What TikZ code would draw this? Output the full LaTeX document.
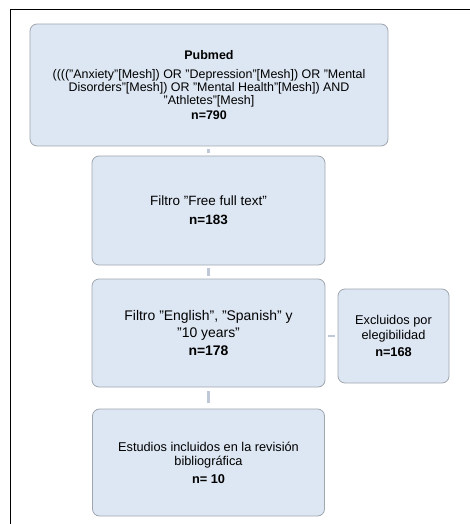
\documentclass[tikz,border=0pt]{standalone}
\usepackage{fontspec}
\setmainfont{Liberation Sans}
\usepackage{tikz}
\usetikzlibrary{calc}
\definecolor{boxfill}{RGB}{221,231,243}
\definecolor{boxline}{RGB}{160,166,174}
\definecolor{linkline}{RGB}{190,200,214}
\tikzset{
	flowbox/.style={draw=boxline, fill=boxfill, line width=0.8bp, rounded corners=7bp, align=center, inner sep=2bp, font=\fontsize{12.8}{14}\selectfont},
	linkseg/.style={draw=linkline, line width=2.2bp, shorten <=2.5bp, shorten >=2.5bp}
}

\begin{document}
\begin{tikzpicture}[x=1bp, y=-1bp]
			%%%%% START %%%%%
			
			\useasboundingbox (0, 0) rectangle (470, 524);
			\draw[line width=1bp] (10, 524) -- (10, 10) -- (470, 10);
			
			\node[flowbox, minimum width=358bp, minimum height=122bp, font=\fontsize{12.5}{13}\selectfont] (pubmed) at (209, 85) {\textbf{Pubmed}\\[6bp](((("Anxiety"[Mesh]) OR "Depression"[Mesh]) OR "Mental\\Disorders"[Mesh]) OR "Mental Health"[Mesh]) AND\\"Athletes"[Mesh]\\[2bp]\textbf{n=790}};
			
			\node[flowbox, minimum width=233bp, minimum height=109bp, font=\fontsize{13.5}{14}\selectfont] (fulltext) at (208.5, 210.5) {Filtro "Free full text"\\[5bp]\textbf{n=183}};
			
			\node[flowbox, minimum width=233bp, minimum height=108bp, font=\fontsize{14}{15}\selectfont] (idioma) at (208.5, 333) {Filtro "English", "Spanish" y\\[3bp]"10 years"\\[3bp]\textbf{n=178}};
			
			\node[flowbox, minimum width=111bp, minimum height=94bp] (excluidos) at (393.5, 336) {Excluidos por\\[1bp]elegibilidad\\[3bp]\textbf{n=168}};
			
			\node[flowbox, minimum width=232bp, minimum height=107bp] (incluidos) at (208.5, 462.5) {Estudios incluidos en la revisión\\bibliográfica\\[4bp]\textbf{n= 10}};
			
			\draw[linkseg] (pubmed.south -| fulltext.north) -- (fulltext.north);
			\draw[linkseg] (fulltext.south) -- (idioma.north);
			\draw[linkseg] (idioma.east |- excluidos.west) -- (excluidos.west);
			\draw[linkseg, shorten <=4bp, shorten >=6bp] (idioma.south) -- (incluidos.north);
			
			%%%%% END %%%%%
		\end{tikzpicture}
\end{document}
